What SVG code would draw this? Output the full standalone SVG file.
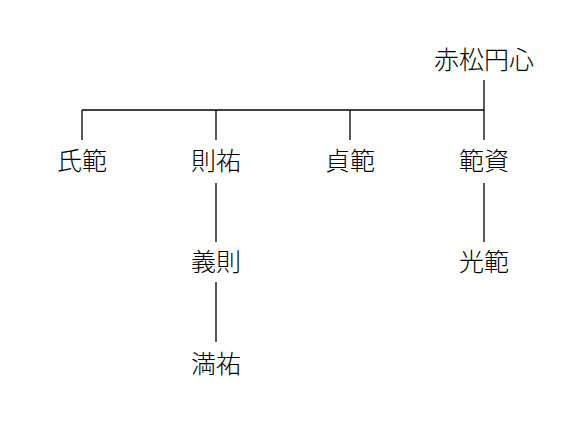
<svg xmlns="http://www.w3.org/2000/svg" width="579" height="444" viewBox="0 0 579 444">
<style>
text{font-family:"Noto Sans CJK JP","Noto Sans CJK SC",sans-serif;font-size:25px;font-weight:300;fill:#000;text-anchor:middle;dominant-baseline:central}
.c line{stroke:#000;stroke-width:1.3}
</style>
<rect width="579" height="444" fill="#fff"/>
<g class="c" id="connectors">
<line x1="484" y1="80" x2="484" y2="140"/>
<line x1="82" y1="110" x2="484" y2="110"/>
<line x1="82" y1="110" x2="82" y2="140"/>
<line x1="216" y1="110" x2="216" y2="140"/>
<line x1="350" y1="110" x2="350" y2="140"/>
<line x1="216" y1="183" x2="216" y2="242"/>
<line x1="484" y1="183" x2="484" y2="242"/>
<line x1="216" y1="282" x2="216" y2="342"/>
</g>
<g id="n-root"><text x="484" y="57.5">赤松円心</text></g>
<g id="n-ujinori"><text x="82" y="158.5">氏範</text></g>
<g id="n-norisuke"><text x="216" y="158.5">則祐</text></g>
<g id="n-sadanori"><text x="350" y="158.5">貞範</text></g>
<g id="n-norisuke2"><text x="484" y="158.5">範資</text></g>
<g id="n-yoshinori"><text x="216" y="260">義則</text></g>
<g id="n-mitsunori"><text x="484" y="260">光範</text></g>
<g id="n-mitsusuke"><text x="216" y="362">満祐</text></g>
</svg>
